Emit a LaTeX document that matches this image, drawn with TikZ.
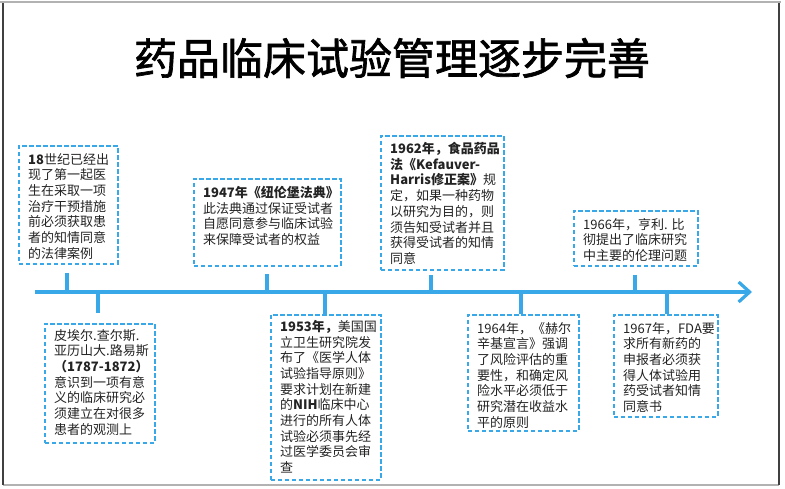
\documentclass[tikz,border=0pt]{standalone}
\usepackage{fontspec}
\setmainfont{Noto Sans CJK SC}
\newfontfamily\titlefnt[FakeBold=1.6]{Noto Sans CJK SC}
\usetikzlibrary{arrows.meta}
\definecolor{tlblue}{RGB}{56,168,232}
\definecolor{txtgray}{RGB}{35,35,35}
\tikzset{
  x=1pt,y=-1pt,
  tbox/.style={draw=tlblue,line width=1.8pt,dash pattern=on 4.5pt off 2.5pt,rectangle,inner sep=0pt,anchor=north west},
  ttext/.style={inner sep=0pt,align=left,anchor=north west,text=txtgray,font=\fontsize{13}{15.7}\selectfont},
  tick/.style={draw=tlblue,line width=3.2pt},
  tline/.style={draw=tlblue,line width=3.6pt,-{Straight Barb[length=11pt,width=20pt,line width=3.2pt]}}
}
\begin{document}
\begin{tikzpicture}
\useasboundingbox (0,0) rectangle (785,489);
% frame
\draw[gray!60,line width=1.5pt] (0,2) -- (781,2);
\draw[gray!60,line width=2pt] (3,485) -- (779,485);
\draw[black!75,line width=1.4pt] (3,3) -- (3,485);
\draw[black!75,line width=1.4pt] (779,3) -- (779,485);
% title
\node[font=\fontsize{43}{48}\selectfont\titlefnt,text=black] (title) at (392,58) {药品临床试验管理逐步完善};
% timeline
\coordinate (ls) at (35,292);
\coordinate (le) at (752,292);
\draw[tline] (ls) -- (le);
% boxes top
\node[tbox,minimum width=99,minimum height=118] (b1) at (18,145) {};
\node[tbox,minimum width=147,minimum height=87] (b2) at (193,178) {};
\node[tbox,minimum width=123,minimum height=134] (b3) at (380,135) {};
\node[tbox,minimum width=124,minimum height=55] (b4) at (573,210) {};
% boxes bottom
\node[tbox,minimum width=110,minimum height=119] (b5) at (44,323) {};
\node[tbox,minimum width=110,minimum height=165] (b6) at (270,314) {};
\node[tbox,minimum width=111,minimum height=116] (b7) at (467,314) {};
\node[tbox,minimum width=104,minimum height=102] (b8) at (613,314) {};
% ticks
\coordinate (u1a) at (67,273);  \coordinate (u1b) at (67,292);
\coordinate (u2a) at (267,274); \coordinate (u2b) at (267,292);
\coordinate (u3a) at (431,275); \coordinate (u3b) at (431,292);
\coordinate (u4a) at (635,275); \coordinate (u4b) at (635,292);
\coordinate (d1a) at (98,292);  \coordinate (d1b) at (98,313);
\coordinate (d2a) at (325,292); \coordinate (d2b) at (325,314);
\coordinate (d3a) at (521,292); \coordinate (d3b) at (521,314);
\coordinate (d4a) at (667,292); \coordinate (d4b) at (667,314);
\foreach \a/\b in {u1a/u1b,u2a/u2b,u3a/u3b,u4a/u4b,d1a/d1b,d2a/d2b,d3a/d3b,d4a/d4b}
  \draw[tick] (\a) -- (\b);
% texts
\node[ttext] (t1) at ([shift={(10,8)}]b1.north west) {\textbf{18}世纪已经出\\现了第一起医\\生在采取一项\\治疗干预措施\\前必须获取患\\者的知情同意\\的法律案例};
\node[ttext] (t2) at ([shift={(10,8)}]b2.north west) {\textbf{1947年《纽伦堡法典》}\\此法典通过保证受试者\\自愿同意参与临床试验\\来保障受试者的权益};
\node[ttext] (t3) at ([shift={(10,7)}]b3.north west) {\textbf{1962年，食品药品}\\\textbf{法《Kefauver-}\\\textbf{Harris修正案》}规\\定，如果一种药物\\以研究为目的，则\\须告知受试者并且\\获得受试者的知情\\同意};
\node[ttext] (t4) at ([shift={(10,8)}]b4.north west) {1966年，亨利. 比\\彻提出了临床研究\\中主要的伦理问题};
\node[ttext] (t5) at ([shift={(10,6)}]b5.north west) {皮埃尔.查尔斯.\\亚历山大.路易斯\\\textbf{（1787-1872）}\\意识到一项有意\\义的临床研究必\\须建立在对很多\\患者的观测上};
\node[ttext] (t6) at ([shift={(10,6)}]b6.north west) {\textbf{1953年，}美国国\\立卫生研究院发\\布了《医学人体\\试验指导原则》\\要求计划在新建\\的\textbf{NIH}临床中心\\进行的所有人体\\试验必须事先经\\过医学委员会审\\查};
\node[ttext] (t7) at ([shift={(10,8)}]b7.north west) {1964年，《赫尔\\辛基宣言》强调\\了风险评估的重\\要性，和确定风\\险水平必须低于\\研究潜在收益水\\平的原则};
\node[ttext] (t8) at ([shift={(10,8)}]b8.north west) {1967年，FDA要\\求所有新药的\\申报者必须获\\得人体试验用\\药受试者知情\\同意书};
\end{tikzpicture}
\end{document}
